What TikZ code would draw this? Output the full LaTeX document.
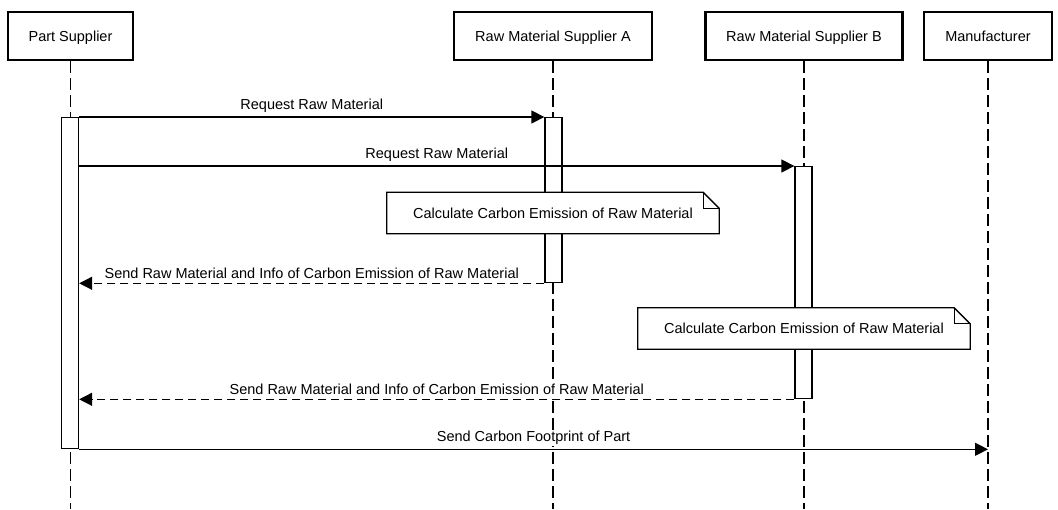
\documentclass[tikz,border=0pt]{standalone}
\usepackage{fontspec}
\setmainfont{Liberation Sans}
\usepackage{tikz}
\usetikzlibrary{arrows.meta,calc,positioning}
\definecolor{ink}{HTML}{000000}
\newcommand{\rawmat}{Raw Material}

\begin{document}
\begin{tikzpicture}[x=1pt,y=-1pt,
    font=\fontsize{14.5}{17}\selectfont,
    actor/.style={draw=ink,line width=2.2pt,fill=white,minimum height=48pt,inner sep=0pt,
      text height=11pt,text depth=0pt},
    life/.style={draw=ink,line width=1.3pt,dash pattern=on 12pt off 5pt},
    act/.style={draw=ink,line width=1.3pt,fill=white,minimum width=17pt,inner sep=0pt,anchor=north},
    msg/.style={draw=ink,line width=1.3pt,-{Triangle[length=13pt,width=13pt]}},
    reply/.style={msg,dash pattern=on 8pt off 5pt},
    lbl/.style={above,fill=white,inner sep=1pt,yshift=3pt},
    notebox/.style={fill=white,minimum width=332pt,minimum height=41pt,inner sep=0pt}]
  \useasboundingbox (0,0) rectangle (1058,509);
  % participants
  \node[actor,minimum width=125pt] (ps) at (70.5,36) {Part Supplier};
  \node[actor,minimum width=198pt] (rmsa) at (553,36) {\rawmat{} Supplier A};
  \node[actor,minimum width=197pt] (rmsb) at (804,36) {\rawmat{} Supplier B};
  \node[actor,minimum width=128pt] (mf) at (988,36) {Manufacturer};
  \foreach \p in {ps,rmsa,rmsb,mf}
    \draw[life] (\p.south) -- (\p.south |- 0,509);
  % activations
  \node[act,minimum height=331pt] (actps) at (70,117) {};
  \node[act,minimum height=165pt] (acta) at (553.5,117) {};
  \node[act,minimum height=232pt] (actb) at (803.5,166) {};
  % messages
  \draw[msg] (actps.north east) -- node[lbl]{Request \rawmat} (acta.north west);
  \draw[msg] (actps.east |- actb.north west) -- node[lbl]{Request \rawmat} (actb.north west);
  \node[notebox] (n1) at (553,213) {Calculate Carbon Emission of \rawmat};
  \draw[reply] (acta.south west) -- node[lbl]{Send \rawmat{} and Info of Carbon Emission of \rawmat} (actps.east |- acta.south west);
  \node[notebox] (n2) at (804,328.5) {Calculate Carbon Emission of \rawmat};
  \draw[reply] (actb.south west) -- node[lbl]{Send \rawmat{} and Info of Carbon Emission of \rawmat} (actps.east |- actb.south west);
  \draw[msg] (actps.south east) -- node[lbl]{Send Carbon Footprint of Part} (mf |- actps.south east);
  % notes
  \foreach \n in {n1,n2} {
    \draw[ink,line width=1.3pt] (\n.north west) -- ([xshift=-16pt]\n.north east)
      -- ([yshift=-16pt]\n.north east) -- (\n.south east) -- (\n.south west) -- cycle;
    \draw[ink,line width=1.3pt] ([xshift=-16pt]\n.north east) |- ([yshift=-16pt]\n.north east);
  }
\end{tikzpicture}
\end{document}
